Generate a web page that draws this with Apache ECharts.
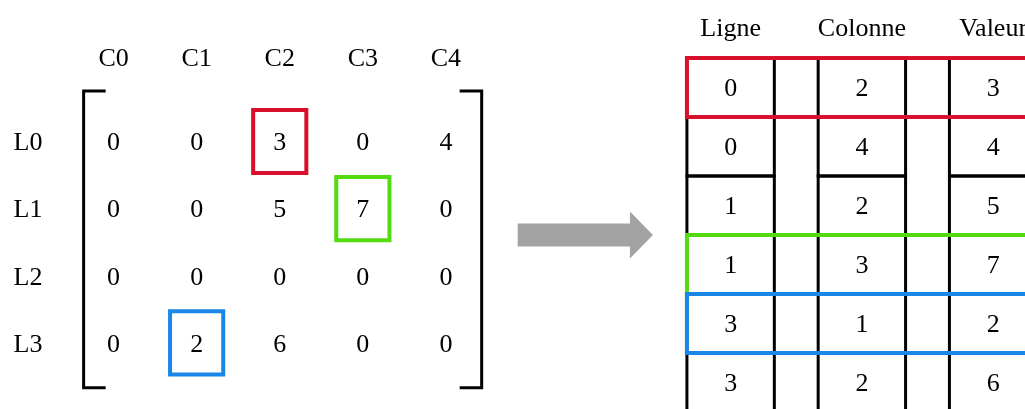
<!DOCTYPE html>
<html>
<head>
<meta charset="utf-8">
<script src="https://cdn.jsdelivr.net/npm/echarts@6/dist/echarts.min.js"></script>
<style>
html,body{margin:0;padding:0;background:#fff;}
#chart{width:1025px;height:409px;}
</style>
</head>
<body>
<div id="chart"></div>
<script>
// ---- data ----
const colLabels = ['C0', 'C1', 'C2', 'C3', 'C4'];
const rowLabels = ['L0', 'L1', 'L2', 'L3'];
const matrix = [
  [0, 0, 3, 0, 4],
  [0, 0, 5, 7, 0],
  [0, 0, 0, 0, 0],
  [0, 2, 6, 0, 0]
];
const highlighted = [[0, 2], [1, 3], [3, 1]]; // [row, col]
const tableHeaders = ['Ligne', 'Colonne', 'Valeur'];

// ---- styles ----
const highlightColors = ['#d8102b', '#52dc0f', '#1a86e8'];
const FONT = "'Liberation Serif','Times New Roman',serif";
const FS = 26;

// derived COO list (row-major order of non-zero entries)
const coo = [];
matrix.forEach((r, i) => r.forEach((v, j) => { if (v !== 0) coo.push([i, j, v]); }));

const matrixCells = [];
matrix.forEach((r, i) => r.forEach((v, j) => matrixCells.push([j, i, v])));

const tableText = [];
coo.forEach((e, r) => e.forEach((v, c) => tableText.push([c, r, v])));
const tableCells = [];
coo.forEach((e, r) => e.forEach((v, c) => tableCells.push([c, r])));

const hlMatrix = highlighted.map((h, k) => [h[1], h[0], k]);
const hlTable = highlighted.map((h, k) => [coo.findIndex(e => e[0] === h[0] && e[1] === h[1]), k]);

function textItem(p, text) {
  return {
    type: 'text', x: p[0], y: p[1] + 2,
    style: { text: String(text), fill: '#000', fontSize: FS, fontFamily: FONT, align: 'center', verticalAlign: 'middle' }
  };
}

const chart = echarts.init(document.getElementById('chart'), null, { renderer: 'canvas' });

const option = {
  animation: false,
  backgroundColor: '#fff',
  grid: [
    { left: 72, top: 108, width: 415.5, height: 268.4, outerBoundsMode: 'none', containLabel: false },
    { left: 665, top: 58, width: 393.75, height: 354, outerBoundsMode: 'none', containLabel: false }
  ],
  xAxis: [
    { type: 'value', gridIndex: 0, min: -0.5, max: 4.5, show: false },
    { type: 'value', gridIndex: 1, min: -0.5, max: 2.5, show: false }
  ],
  yAxis: [
    { type: 'value', gridIndex: 0, min: -0.5, max: 3.5, inverse: true, show: false },
    { type: 'value', gridIndex: 1, min: -0.5, max: 5.5, inverse: true, show: false }
  ],
  series: [
    // matrix values
    {
      type: 'custom', xAxisIndex: 0, yAxisIndex: 0, data: matrixCells,
      renderItem: (params, api) => textItem(api.coord([api.value(0), api.value(1)]), api.value(2))
    },
    // column labels
    {
      type: 'custom', xAxisIndex: 0, yAxisIndex: 0, data: colLabels.map((l, i) => [i, l]),
      renderItem: (params, api) => textItem(api.coord([api.value(0), -1.26]), colLabels[params.dataIndex])
    },
    // row labels
    {
      type: 'custom', xAxisIndex: 0, yAxisIndex: 0, data: rowLabels.map((l, i) => [i, l]),
      renderItem: (params, api) => textItem(api.coord([-1.03, api.value(0)]), rowLabels[params.dataIndex])
    },
    // brackets
    {
      type: 'custom', xAxisIndex: 0, yAxisIndex: 0, data: [[0]],
      renderItem: (params, api) => {
        const nC = colLabels.length, nR = rowLabels.length;
        const tl = api.coord([-0.36, -0.755]), bl = api.coord([-0.36, nR - 1 + 0.67]);
        const tr = api.coord([nC - 1 + 0.43, -0.755]), br = api.coord([nC - 1 + 0.43, nR - 1 + 0.67]);
        const tick = api.size([0.265, 0])[0];
        const st = { stroke: '#000', lineWidth: 3, fill: 'none' };
        return {
          type: 'group', children: [
            { type: 'polyline', shape: { points: [[tl[0] + tick, tl[1]], tl, bl, [bl[0] + tick, bl[1]]] }, style: st },
            { type: 'polyline', shape: { points: [[tr[0] - tick, tr[1]], tr, br, [br[0] - tick, br[1]]] }, style: st }
          ]
        };
      }
    },
    // matrix highlight boxes
    {
      type: 'custom', xAxisIndex: 0, yAxisIndex: 0, data: hlMatrix,
      renderItem: (params, api) => {
        const c = api.coord([api.value(0) - 0.32, api.value(1) - 0.47]);
        const s = api.size([0.64, 0.94]);
        return { type: 'rect', shape: { x: c[0], y: c[1], width: s[0], height: s[1] },
          style: { stroke: highlightColors[api.value(2)], lineWidth: 4, fill: 'none' } };
      }
    },
    // table headers
    {
      type: 'custom', xAxisIndex: 1, yAxisIndex: 1, data: tableHeaders.map((h, i) => [i, h]),
      renderItem: (params, api) => textItem(api.coord([api.value(0), -1.03]), tableHeaders[params.dataIndex])
    },
    // table cells
    {
      type: 'custom', xAxisIndex: 1, yAxisIndex: 1, data: tableCells,
      renderItem: (params, api) => {
        const c = api.coord([api.value(0) - 0.333, api.value(1) - 0.5]);
        const s = api.size([0.666, 1]);
        return { type: 'rect', shape: { x: c[0], y: c[1], width: s[0], height: s[1] },
          style: { stroke: '#000', lineWidth: 3, fill: 'none' } };
      }
    },
    // table values
    {
      type: 'custom', xAxisIndex: 1, yAxisIndex: 1, data: tableText,
      renderItem: (params, api) => textItem(api.coord([api.value(0), api.value(1)]), api.value(2))
    },
    // table highlight rows
    {
      type: 'custom', xAxisIndex: 1, yAxisIndex: 1, data: hlTable,
      renderItem: (params, api) => {
        const c = api.coord([-0.333, api.value(0) - 0.5]);
        const e = api.coord([3.2, api.value(0) + 0.5]);
        return { type: 'rect', shape: { x: c[0], y: c[1], width: e[0] - c[0], height: e[1] - c[1] },
          style: { stroke: highlightColors[api.value(1)], lineWidth: 4, fill: 'none' } };
      }
    }
  ]
};
chart.setOption(option);

// arrow between the matrix and the table
const startX = chart.convertToPixel({ gridIndex: 0 }, [colLabels.length - 1 + 0.43, 0])[0] + 36;
const endX = chart.convertToPixel({ gridIndex: 1 }, [-0.333, 0])[0] - 34;
const midY = chart.convertToPixel({ gridIndex: 1 }, [0, 2.5])[1];
const headLen = 23, bodyH = 11.5, headH = 23.5;
chart.setOption({
  graphic: [{
    type: 'polygon',
    shape: { points: [
      [startX, midY - bodyH], [endX - headLen, midY - bodyH], [endX - headLen, midY - headH],
      [endX, midY], [endX - headLen, midY + headH], [endX - headLen, midY + bodyH], [startX, midY + bodyH]
    ] },
    style: { fill: '#a3a3a3' }
  }]
});
</script>
</body>
</html>
